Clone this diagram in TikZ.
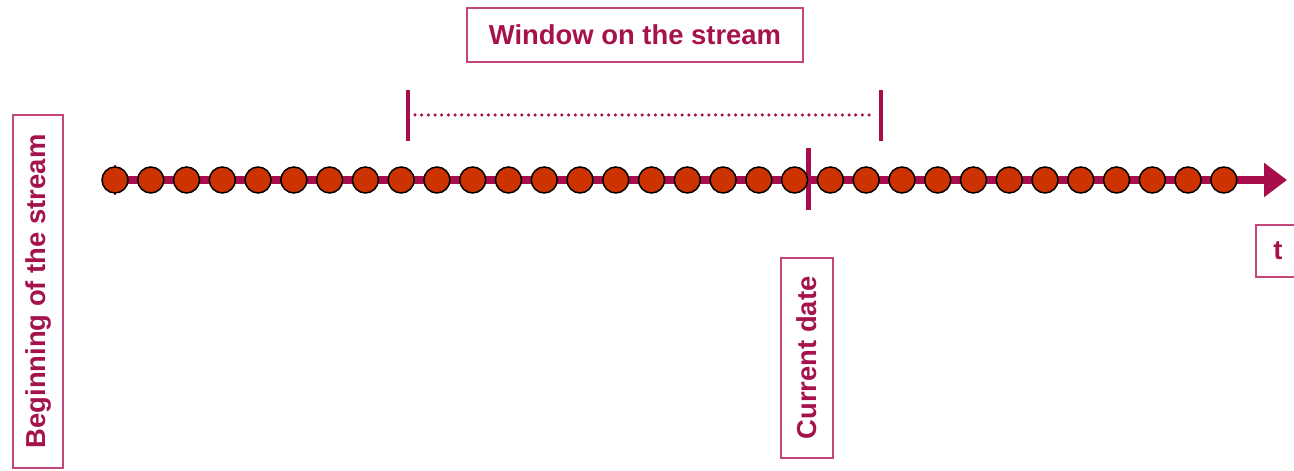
\documentclass[tikz,border=0pt]{standalone}
\usepackage{fontspec}
\setmainfont{Liberation Sans}
\usetikzlibrary{arrows.meta,positioning}
\definecolor{streamline}{HTML}{A80D4C}
\definecolor{streamtext}{HTML}{A5124C}
\definecolor{boxline}{HTML}{C4467A}
\definecolor{eventfill}{HTML}{CC3300}
\tikzset{
  labelbox/.style={draw=boxline,line width=0.85pt,fill=white,text=streamtext,
    font=\fontsize{15.6}{18}\selectfont\bfseries,inner sep=0pt},
  event/.style={circle,draw=black,line width=0.85pt,fill=eventfill,
    minimum size=0.52cm,inner sep=0pt},
  marker/.style={draw=streamline,line width=0.09cm}
}
\begin{document}
\begin{tikzpicture}
        \clip (0,0) rectangle (25.88,9.42);
        \useasboundingbox (0,0) rectangle (25.88,9.42);

        % time axis
        \coordinate (start) at (2.30,5.82);
        \coordinate (tip) at (25.74,5.82);
        \draw [marker,line width=0.05cm] (2.30,5.52) -- (2.30,6.12);
        \draw [draw=streamline,line width=0.17cm,-{Triangle[length=0.46cm,width=0.66cm]}] (start) -- (tip);

        % current date
        \coordinate (nowtop) at (16.16,6.46);
        \coordinate (nowbot) at (16.16,5.22);
        \draw [marker,line width=0.1cm] (nowtop) -- (nowbot);

        % events
        \foreach \i in {1,...,32}
          \node [event] (d\i) at ({2.30+(\i-1)*0.7154},5.82) {};

        % window
        \coordinate (wlt) at (8.16,7.62);
        \coordinate (wlb) at (8.16,6.60);
        \coordinate (wrt) at (17.62,7.62);
        \coordinate (wrb) at (17.62,6.60);
        \coordinate (wl) at (8.30,7.12);
        \coordinate (wr) at (17.50,7.12);
        \draw [marker] (wlt) -- (wlb);
        \draw [marker] (wrt) -- (wrb);
        \draw [draw=streamline,line width=2pt,line cap=round,dash pattern=on 0pt off 3.8pt] (wl) -- (wr);

        \node [labelbox,minimum width=6.72cm,minimum height=1.08cm] (window) at (12.70,8.72) {Window on the stream};
        \node [labelbox,rotate=90,minimum width=7.06cm,minimum height=1.0cm] (begin) at (0.76,3.59) {Beginning of the stream};
        \node [labelbox,rotate=90,minimum width=4.0cm,minimum height=1.04cm] (now) at (16.14,2.26) {Current date};
        \node [labelbox,minimum width=0.88cm,minimum height=1.04cm] (time) at (25.56,4.40) {t};
\end{tikzpicture}
\end{document}
